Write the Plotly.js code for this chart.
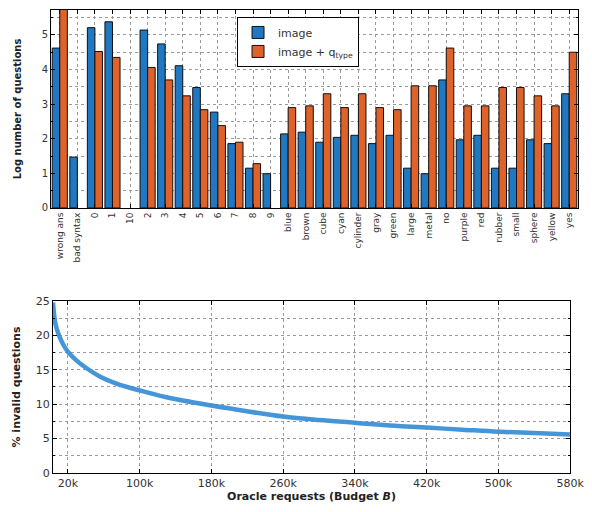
<!DOCTYPE html>
<html>
<head>
<meta charset="utf-8">
<script src="https://cdn.plot.ly/plotly-3.0.1.min.js"></script>
<style>html,body{margin:0;padding:0;background:#fff;}#chart{width:592px;height:512px;}</style>
</head>
<body>
<div id="chart"></div>
<script>
// ---- Top chart data ----
const categories = ["wrong ans","bad syntax","0","1","10","2","3","4","5","6","7","8","9",
  "blue","brown","cube","cyan","cylinder","gray","green","large","metal","no","purple",
  "red","rubber","small","sphere","yellow","yes"];
const imageVals = [4.62,1.47,5.21,5.38,null,5.14,4.74,4.11,3.48,2.77,1.86,1.15,0.99,
  2.14,2.19,1.90,2.04,2.10,1.86,2.10,1.15,0.99,3.70,1.97,2.10,1.15,1.15,1.97,1.86,3.30];
const imageQtypeVals = [5.9,null,4.52,4.35,null,4.06,3.70,3.24,2.84,2.38,1.90,1.28,null,
  2.90,2.95,3.30,2.90,3.30,2.90,2.84,3.53,3.53,4.62,2.95,2.95,3.48,3.48,3.24,2.95,4.50];

// ---- Bottom chart data ----
const budget = [3300,6000,10000,15000,20000,30000,40000,56000,74000,100000,130000,180000,
  223000,260000,300000,340000,380000,420000,460000,500000,540000,580000];
const invalidPct = [24.8,21.7,20.0,18.6,17.6,16.3,15.3,14.0,13.0,12.0,11.0,9.8,
  8.9,8.2,7.7,7.3,6.9,6.6,6.3,6.0,5.8,5.6];
const budgetTickVals = [20000,100000,180000,260000,340000,420000,500000,580000];
const budgetTickText = ["20k","100k","180k","260k","340k","420k","500k","580k"];

const blue = "#1f78c1", orange = "#e0622b", lineBlue = "#3a90d6";
const gridCol = "#9a9a9a";
const tickFont = {family: "DejaVu Sans", size: 10, color: "#333"};

const traces = [
  {type: "bar", x: categories, y: imageVals, name: "image",
   marker: {color: blue, line: {color: "#111", width: 1}}, xaxis: "x", yaxis: "y"},
  {type: "bar", x: categories, y: imageQtypeVals, name: "image + q<sub>type</sub>",
   marker: {color: orange, line: {color: "#111", width: 1}}, xaxis: "x", yaxis: "y"},
  {type: "scatter", mode: "lines", x: budget, y: invalidPct, showlegend: false,
   line: {color: lineBlue, width: 4.5, shape: "spline"}, opacity: 0.95, xaxis: "x2", yaxis: "y2"}
];

const baseAxis = {
  showline: true, linecolor: "#000", linewidth: 1, mirror: "ticks",
  ticks: "inside", ticklen: 4, tickcolor: "#000",
  showgrid: true, gridcolor: gridCol, griddash: "dot", gridwidth: 1,
  zeroline: false, tickfont: tickFont
};

const layout = {
  width: 592, height: 512,
  margin: {l: 51, r: 14, t: 10, b: 39},
  paper_bgcolor: "#fff", plot_bgcolor: "#fff",
  font: {family: "DejaVu Sans", color: "#222"},
  barmode: "group", bargap: 0.14, bargroupgap: 0,
  showlegend: true,
  legend: {x: 0.353, y: 0.985, xanchor: "left", yanchor: "top",
    bordercolor: "#000", borderwidth: 1, bgcolor: "#fff",
    font: {family: "DejaVu Sans", size: 11, color: "#333"}},
  xaxis: Object.assign({}, baseAxis, {
    domain: [0, 1], anchor: "y", type: "category",
    tickangle: -90, tickfont: {family: "DejaVu Sans", size: 9, color: "#333"}
  }),
  yaxis: Object.assign({}, baseAxis, {
    domain: [0.5724, 1], anchor: "x", range: [0, 5.72],
    tickvals: [0,1,2,3,4,5],
    minor: {dtick: 0.5, tick0: 0, showgrid: true, gridcolor: gridCol, griddash: "dot",
      ticks: "inside", ticklen: 2, tickcolor: "#000"},
    title: {text: "Log number of questions", standoff: 18,
      font: {family: "DejaVu Sans", size: 10, weight: "bold", color: "#222"}}
  }),
  xaxis2: Object.assign({}, baseAxis, {
    domain: [0.0038, 0.985], anchor: "y2", range: [3300, 580000],
    tickvals: budgetTickVals, ticktext: budgetTickText,
    tickfont: {family: "DejaVu Sans", size: 11, color: "#333"},
    title: {text: "Oracle requests (Budget <i>B</i>)", standoff: 3,
      font: {family: "DejaVu Sans", size: 11, weight: "bold", color: "#222"}}
  }),
  yaxis2: Object.assign({}, baseAxis, {
    domain: [0, 0.3715], anchor: "x2", range: [0, 25], dtick: 5,
    tickfont: {family: "DejaVu Sans", size: 11, color: "#333"},
    minor: {dtick: 2.5, tick0: 0, showgrid: true, gridcolor: gridCol, griddash: "dot",
      ticks: "inside", ticklen: 2, tickcolor: "#000"},
    title: {text: "% invalid questions", standoff: 12,
      font: {family: "DejaVu Sans", size: 11, weight: "bold", color: "#222"}}
  })
};

Plotly.newPlot("chart", traces, layout, {displayModeBar: false, staticPlot: true});
</script>
</body>
</html>
